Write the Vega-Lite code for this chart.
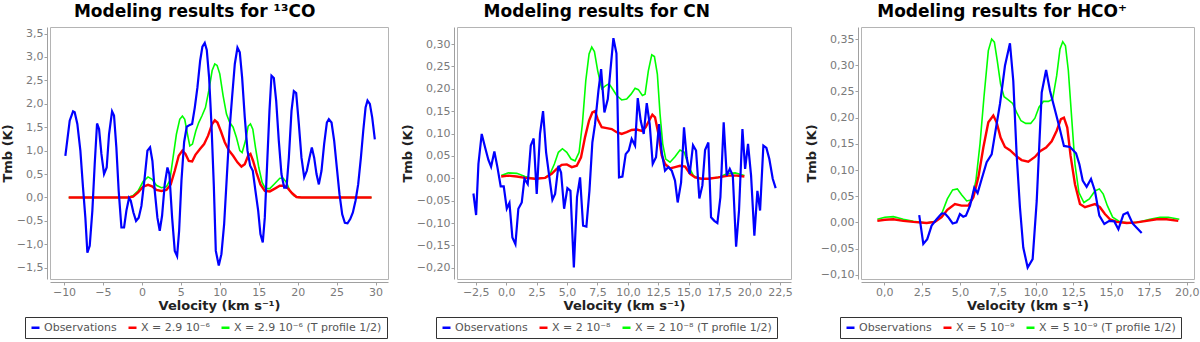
{
  "$schema": "https://vega.github.io/schema/vega-lite/v6.json",
  "padding": {"left": 0, "top": 2, "right": 3, "bottom": 0},
  "spacing": 11,
  "config": {
    "font": "DejaVu Sans",
    "view": {"stroke": "#b4b4b4", "strokeWidth": 1},
    "axis": {"domainColor": "#a0a0a0", "tickColor": "#a0a0a0", "labelColor": "#7a7a7a", "labelFont": "DejaVu Sans", "labelFontSize": 11, "titleFont": "DejaVu Sans", "titleFontSize": 13, "titleFontWeight": "bold", "titleColor": "#222222", "grid": false, "offset": 3, "tickSize": 3, "labelPadding": 1, "titlePadding": 2},
    "title": {"fontSize": 17, "font": "DejaVu Sans", "fontWeight": "bold", "color": "#000000", "offset": 6, "frame": "bounds", "anchor": "middle"},
    "legend": {"orient": "none", "direction": "horizontal", "strokeColor": "#333333", "padding": 5, "symbolType": "stroke", "symbolStrokeWidth": 2.5, "symbolSize": 64, "labelFontSize": 11, "labelLimit": 0, "labelColor": "#555555", "labelFont": "DejaVu Sans", "columnPadding": 6, "labelOffset": 3, "title": null, "legendY": 290}
  },
  "resolve": {"scale": {"color": "independent"}, "legend": {"color": "independent"}},
  "datasets": {
    "co": [
      {"s":"o","v":-9.83,"t":0.89},{"s":"o","v":-9.27,"t":1.64},{"s":"o","v":-8.84,"t":1.84},{"s":"o","v":-8.63,"t":1.82},{"s":"o","v":-8.29,"t":1.57},{"s":"o","v":-7.9,"t":1.0},{"s":"o","v":-7.56,"t":0.21},{"s":"o","v":-7.26,"t":-0.43},{"s":"o","v":-7.0,"t":-1.18},{"s":"o","v":-6.7,"t":-1.03},{"s":"o","v":-6.36,"t":-0.28},{"s":"o","v":-6.06,"t":0.71},{"s":"o","v":-5.76,"t":1.58},{"s":"o","v":-5.5,"t":1.46},{"s":"o","v":-5.2,"t":0.93},{"s":"o","v":-4.86,"t":0.5},{"s":"o","v":-4.52,"t":0.64},{"s":"o","v":-4.22,"t":1.35},{"s":"o","v":-3.83,"t":1.84},{"s":"o","v":-3.58,"t":1.75},{"s":"o","v":-3.28,"t":1.07},{"s":"o","v":-2.98,"t":0.14},{"s":"o","v":-2.63,"t":-0.64},{"s":"o","v":-2.29,"t":-0.64},{"s":"o","v":-1.99,"t":-0.28},{"s":"o","v":-1.65,"t":-0.01},{"s":"o","v":-1.43,"t":-0.07},{"s":"o","v":-1.09,"t":-0.32},{"s":"o","v":-0.75,"t":-0.5},{"s":"o","v":-0.41,"t":-0.43},{"s":"o","v":-0.06,"t":-0.18},{"s":"o","v":0.36,"t":0.43},{"s":"o","v":0.71,"t":1.0},{"s":"o","v":1.05,"t":1.07},{"s":"o","v":1.35,"t":0.78},{"s":"o","v":1.65,"t":0.14},{"s":"o","v":1.99,"t":-0.43},{"s":"o","v":2.29,"t":-0.71},{"s":"o","v":2.59,"t":-0.39},{"s":"o","v":2.93,"t":0.28},{"s":"o","v":3.28,"t":0.64},{"s":"o","v":3.53,"t":0.5},{"s":"o","v":3.88,"t":-0.43},{"s":"o","v":4.22,"t":-1.14},{"s":"o","v":4.52,"t":-1.25},{"s":"o","v":4.78,"t":-0.71},{"s":"o","v":5.08,"t":0.36},{"s":"o","v":5.42,"t":1.18},{"s":"o","v":5.76,"t":1.51},{"s":"o","v":6.15,"t":1.55},{"s":"o","v":6.45,"t":1.57},{"s":"o","v":6.79,"t":1.92},{"s":"o","v":7.13,"t":2.35},{"s":"o","v":7.48,"t":2.92},{"s":"o","v":7.77,"t":3.22},{"s":"o","v":8.07,"t":3.3},{"s":"o","v":8.33,"t":3.15},{"s":"o","v":8.63,"t":2.56},{"s":"o","v":8.93,"t":1.57},{"s":"o","v":9.23,"t":0.28},{"s":"o","v":9.49,"t":-1.14},{"s":"o","v":9.87,"t":-1.45},{"s":"o","v":10.21,"t":-1.21},{"s":"o","v":10.56,"t":-0.57},{"s":"o","v":10.9,"t":0.43},{"s":"o","v":11.24,"t":1.42},{"s":"o","v":11.58,"t":2.14},{"s":"o","v":11.93,"t":2.85},{"s":"o","v":12.27,"t":3.2},{"s":"o","v":12.57,"t":3.1},{"s":"o","v":12.87,"t":2.56},{"s":"o","v":13.21,"t":1.71},{"s":"o","v":13.56,"t":1.0},{"s":"o","v":13.9,"t":0.68},{"s":"o","v":14.24,"t":0.57},{"s":"o","v":14.58,"t":0.14},{"s":"o","v":14.93,"t":-0.28},{"s":"o","v":15.22,"t":-0.78},{"s":"o","v":15.52,"t":-0.96},{"s":"o","v":15.78,"t":-0.43},{"s":"o","v":16.08,"t":0.71},{"s":"o","v":16.38,"t":1.85},{"s":"o","v":16.64,"t":2.6},{"s":"o","v":16.94,"t":2.55},{"s":"o","v":17.24,"t":2.07},{"s":"o","v":17.58,"t":1.21},{"s":"o","v":17.92,"t":0.5},{"s":"o","v":18.27,"t":0.21},{"s":"o","v":18.57,"t":0.21},{"s":"o","v":18.87,"t":0.85},{"s":"o","v":19.21,"t":1.85},{"s":"o","v":19.51,"t":2.27},{"s":"o","v":19.81,"t":2.23},{"s":"o","v":20.15,"t":1.57},{"s":"o","v":20.49,"t":0.85},{"s":"o","v":20.84,"t":0.43},{"s":"o","v":21.18,"t":0.57},{"s":"o","v":21.52,"t":0.85},{"s":"o","v":21.82,"t":1.07},{"s":"o","v":22.12,"t":0.85},{"s":"o","v":22.42,"t":0.5},{"s":"o","v":22.72,"t":0.28},{"s":"o","v":23.06,"t":0.57},{"s":"o","v":23.4,"t":1.14},{"s":"o","v":23.75,"t":1.6},{"s":"o","v":24.0,"t":1.67},{"s":"o","v":24.35,"t":1.6},{"s":"o","v":24.69,"t":1.21},{"s":"o","v":25.03,"t":0.64},{"s":"o","v":25.37,"t":0.07},{"s":"o","v":25.72,"t":-0.36},{"s":"o","v":26.06,"t":-0.54},{"s":"o","v":26.4,"t":-0.55},{"s":"o","v":26.75,"t":-0.46},{"s":"o","v":27.09,"t":-0.32},{"s":"o","v":27.43,"t":-0.07},{"s":"o","v":27.77,"t":0.28},{"s":"o","v":28.12,"t":0.85},{"s":"o","v":28.42,"t":1.42},{"s":"o","v":28.72,"t":1.92},{"s":"o","v":28.97,"t":2.07},{"s":"o","v":29.27,"t":2.0},{"s":"o","v":29.57,"t":1.71},{"s":"o","v":29.91,"t":1.24},
      {"s":"m","v":-9.4,"t":0},{"s":"m","v":-1.78,"t":0},{"s":"m","v":-1.13,"t":0.02},{"s":"m","v":-0.49,"t":0.11},{"s":"m","v":0.15,"t":0.23},{"s":"m","v":0.79,"t":0.27},{"s":"m","v":1.31,"t":0.24},{"s":"m","v":1.86,"t":0.16},{"s":"m","v":2.5,"t":0.14},{"s":"m","v":3.15,"t":0.16},{"s":"m","v":3.7,"t":0.28},{"s":"m","v":4.22,"t":0.57},{"s":"m","v":4.73,"t":0.89},{"s":"m","v":5.2,"t":1.0},{"s":"m","v":5.59,"t":0.93},{"s":"m","v":6.02,"t":0.78},{"s":"m","v":6.45,"t":0.77},{"s":"m","v":6.87,"t":0.91},{"s":"m","v":7.43,"t":1.03},{"s":"m","v":7.99,"t":1.14},{"s":"m","v":8.5,"t":1.32},{"s":"m","v":9.02,"t":1.57},{"s":"m","v":9.36,"t":1.65},{"s":"m","v":9.7,"t":1.6},{"s":"m","v":10.13,"t":1.42},{"s":"m","v":10.64,"t":1.18},{"s":"m","v":11.16,"t":1.01},{"s":"m","v":11.71,"t":0.89},{"s":"m","v":12.27,"t":0.75},{"s":"m","v":12.78,"t":0.66},{"s":"m","v":13.21,"t":0.71},{"s":"m","v":13.64,"t":0.89},{"s":"m","v":13.94,"t":0.93},{"s":"m","v":14.28,"t":0.78},{"s":"m","v":14.71,"t":0.53},{"s":"m","v":15.22,"t":0.28},{"s":"m","v":15.78,"t":0.14},{"s":"m","v":16.42,"t":0.13},{"s":"m","v":17.07,"t":0.19},{"s":"m","v":17.71,"t":0.25},{"s":"m","v":18.27,"t":0.25},{"s":"m","v":18.78,"t":0.19},{"s":"m","v":19.29,"t":0.09},{"s":"m","v":19.85,"t":0.01},{"s":"m","v":20.49,"t":0},{"s":"m","v":29.49,"t":0},
      {"s":"g","v":-9.4,"t":0},{"s":"g","v":-1.78,"t":0},{"s":"g","v":-1.13,"t":0.04},{"s":"g","v":-0.49,"t":0.14},{"s":"g","v":0.15,"t":0.34},{"s":"g","v":0.79,"t":0.44},{"s":"g","v":1.31,"t":0.39},{"s":"g","v":1.86,"t":0.26},{"s":"g","v":2.5,"t":0.21},{"s":"g","v":3.15,"t":0.23},{"s":"g","v":3.58,"t":0.36},{"s":"g","v":4.0,"t":0.85},{"s":"g","v":4.43,"t":1.35},{"s":"g","v":4.86,"t":1.67},{"s":"g","v":5.2,"t":1.74},{"s":"g","v":5.5,"t":1.67},{"s":"g","v":5.85,"t":1.35},{"s":"g","v":6.15,"t":1.1},{"s":"g","v":6.49,"t":1.14},{"s":"g","v":6.92,"t":1.42},{"s":"g","v":7.3,"t":1.6},{"s":"g","v":7.73,"t":1.75},{"s":"g","v":8.16,"t":1.92},{"s":"g","v":8.59,"t":2.28},{"s":"g","v":9.02,"t":2.71},{"s":"g","v":9.36,"t":2.85},{"s":"g","v":9.66,"t":2.82},{"s":"g","v":10.0,"t":2.64},{"s":"g","v":10.43,"t":2.17},{"s":"g","v":10.86,"t":1.78},{"s":"g","v":11.28,"t":1.6},{"s":"g","v":11.71,"t":1.5},{"s":"g","v":12.14,"t":1.28},{"s":"g","v":12.57,"t":1.0},{"s":"g","v":12.87,"t":0.96},{"s":"g","v":13.3,"t":1.21},{"s":"g","v":13.64,"t":1.52},{"s":"g","v":13.94,"t":1.57},{"s":"g","v":14.24,"t":1.46},{"s":"g","v":14.58,"t":1.07},{"s":"g","v":15.01,"t":0.64},{"s":"g","v":15.44,"t":0.32},{"s":"g","v":15.87,"t":0.19},{"s":"g","v":16.42,"t":0.19},{"s":"g","v":17.07,"t":0.3},{"s":"g","v":17.71,"t":0.41},{"s":"g","v":18.14,"t":0.41},{"s":"g","v":18.57,"t":0.32},{"s":"g","v":19.0,"t":0.14},{"s":"g","v":19.51,"t":0.04},{"s":"g","v":20.06,"t":0},{"s":"g","v":29.49,"t":0}
    ],
    "cn": [
      {"s":"o","v":-2.69,"t":-0.034},{"s":"o","v":-2.47,"t":-0.082},{"s":"o","v":-2.28,"t":0.032},{"s":"o","v":-2.01,"t":0.099},{"s":"o","v":-1.73,"t":0.069},{"s":"o","v":-1.46,"t":0.041},{"s":"o","v":-1.24,"t":0.026},{"s":"o","v":-0.97,"t":0.06},{"s":"o","v":-0.72,"t":0.025},{"s":"o","v":-0.45,"t":-0.018},{"s":"o","v":-0.2,"t":-0.018},{"s":"o","v":0.05,"t":-0.068},{"s":"o","v":0.27,"t":-0.055},{"s":"o","v":0.51,"t":-0.132},{"s":"o","v":0.76,"t":-0.147},{"s":"o","v":1.0,"t":-0.068},{"s":"o","v":1.28,"t":-0.054},{"s":"o","v":1.5,"t":-0.001},{"s":"o","v":1.77,"t":-0.013},{"s":"o","v":2.02,"t":0.073},{"s":"o","v":2.26,"t":0.089},{"s":"o","v":2.51,"t":-0.035},{"s":"o","v":2.78,"t":0.099},{"s":"o","v":3.03,"t":0.15},{"s":"o","v":3.28,"t":0.058},{"s":"o","v":3.55,"t":0.002},{"s":"o","v":3.8,"t":-0.048},{"s":"o","v":4.02,"t":-0.035},{"s":"o","v":4.29,"t":0.028},{"s":"o","v":4.51,"t":0.013},{"s":"o","v":4.76,"t":-0.068},{"s":"o","v":5.03,"t":-0.022},{"s":"o","v":5.28,"t":-0.028},{"s":"o","v":5.56,"t":-0.199},{"s":"o","v":5.82,"t":-0.042},{"s":"o","v":6.07,"t":0.002},{"s":"o","v":6.32,"t":-0.106},{"s":"o","v":6.59,"t":-0.108},{"s":"o","v":6.84,"t":-0.028},{"s":"o","v":7.08,"t":0.08},{"s":"o","v":7.3,"t":0.121},{"s":"o","v":7.58,"t":0.196},{"s":"o","v":7.8,"t":0.244},{"s":"o","v":8.07,"t":0.147},{"s":"o","v":8.35,"t":0.177},{"s":"o","v":8.56,"t":0.24},{"s":"o","v":8.81,"t":0.313},{"s":"o","v":9.06,"t":0.279},{"s":"o","v":9.27,"t":0.002},{"s":"o","v":9.55,"t":0.004},{"s":"o","v":9.82,"t":0.054},{"s":"o","v":10.07,"t":0.062},{"s":"o","v":10.31,"t":0.088},{"s":"o","v":10.59,"t":0.073},{"s":"o","v":10.81,"t":0.179},{"s":"o","v":11.05,"t":0.129},{"s":"o","v":11.3,"t":0.099},{"s":"o","v":11.55,"t":0.168},{"s":"o","v":11.79,"t":0.121},{"s":"o","v":12.04,"t":0.032},{"s":"o","v":12.31,"t":0.047},{"s":"o","v":12.56,"t":0.121},{"s":"o","v":12.78,"t":0.058},{"s":"o","v":13.05,"t":0.017},{"s":"o","v":13.33,"t":0.025},{"s":"o","v":13.6,"t":0.017},{"s":"o","v":13.87,"t":-0.005},{"s":"o","v":14.09,"t":-0.054},{"s":"o","v":14.37,"t":-0.009},{"s":"o","v":14.61,"t":0.114},{"s":"o","v":14.83,"t":0.047},{"s":"o","v":15.08,"t":0.01},{"s":"o","v":15.35,"t":0.074},{"s":"o","v":15.6,"t":0.062},{"s":"o","v":15.87,"t":-0.045},{"s":"o","v":16.12,"t":-0.016},{"s":"o","v":16.34,"t":0.063},{"s":"o","v":16.61,"t":0.08},{"s":"o","v":16.83,"t":-0.087},{"s":"o","v":17.1,"t":-0.095},{"s":"o","v":17.35,"t":-0.1},{"s":"o","v":17.6,"t":-0.042},{"s":"o","v":17.87,"t":0.125},{"s":"o","v":18.12,"t":0.006},{"s":"o","v":18.37,"t":0.021},{"s":"o","v":18.62,"t":0.006},{"s":"o","v":18.89,"t":-0.153},{"s":"o","v":19.13,"t":-0.072},{"s":"o","v":19.41,"t":0.11},{"s":"o","v":19.63,"t":0.021},{"s":"o","v":19.87,"t":0.077},{"s":"o","v":20.12,"t":0.006},{"s":"o","v":20.39,"t":-0.128},{"s":"o","v":20.64,"t":-0.028},{"s":"o","v":20.86,"t":-0.072},{"s":"o","v":21.13,"t":0.073},{"s":"o","v":21.38,"t":0.068},{"s":"o","v":21.62,"t":0.043},{"s":"o","v":21.9,"t":-0.001},{"s":"o","v":22.14,"t":-0.022},
      {"s":"m","v":-0.41,"t":0.004},{"s":"m","v":0.18,"t":0.006},{"s":"m","v":0.87,"t":0.004},{"s":"m","v":1.55,"t":0.001},{"s":"m","v":2.37,"t":-0.001},{"s":"m","v":3.2,"t":0.001},{"s":"m","v":3.74,"t":0.01},{"s":"m","v":4.15,"t":0.021},{"s":"m","v":4.56,"t":0.03},{"s":"m","v":4.98,"t":0.031},{"s":"m","v":5.39,"t":0.025},{"s":"m","v":5.8,"t":0.028},{"s":"m","v":6.15,"t":0.047},{"s":"m","v":6.48,"t":0.092},{"s":"m","v":6.81,"t":0.129},{"s":"m","v":7.08,"t":0.147},{"s":"m","v":7.3,"t":0.15},{"s":"m","v":7.52,"t":0.132},{"s":"m","v":7.85,"t":0.114},{"s":"m","v":8.26,"t":0.112},{"s":"m","v":8.67,"t":0.11},{"s":"m","v":9.08,"t":0.103},{"s":"m","v":9.49,"t":0.099},{"s":"m","v":9.9,"t":0.103},{"s":"m","v":10.31,"t":0.108},{"s":"m","v":10.73,"t":0.109},{"s":"m","v":11.14,"t":0.106},{"s":"m","v":11.46,"t":0.114},{"s":"m","v":11.74,"t":0.129},{"s":"m","v":12.01,"t":0.142},{"s":"m","v":12.23,"t":0.136},{"s":"m","v":12.51,"t":0.099},{"s":"m","v":12.78,"t":0.051},{"s":"m","v":13.05,"t":0.032},{"s":"m","v":13.46,"t":0.022},{"s":"m","v":13.87,"t":0.025},{"s":"m","v":14.28,"t":0.028},{"s":"m","v":14.7,"t":0.026},{"s":"m","v":15.11,"t":0.01},{"s":"m","v":15.52,"t":0.002},{"s":"m","v":16.07,"t":-0.001},{"s":"m","v":16.61,"t":-0.001},{"s":"m","v":17.43,"t":0.002},{"s":"m","v":18.26,"t":0.006},{"s":"m","v":18.94,"t":0.006},{"s":"m","v":19.57,"t":0.004},
      {"s":"g","v":-0.41,"t":0.006},{"s":"g","v":0.18,"t":0.012},{"s":"g","v":0.87,"t":0.011},{"s":"g","v":1.55,"t":0.004},{"s":"g","v":2.37,"t":-0.001},{"s":"g","v":3.2,"t":0.001},{"s":"g","v":3.61,"t":0.01},{"s":"g","v":3.96,"t":0.032},{"s":"g","v":4.29,"t":0.058},{"s":"g","v":4.62,"t":0.066},{"s":"g","v":4.98,"t":0.058},{"s":"g","v":5.33,"t":0.043},{"s":"g","v":5.66,"t":0.039},{"s":"g","v":5.99,"t":0.058},{"s":"g","v":6.26,"t":0.121},{"s":"g","v":6.54,"t":0.218},{"s":"g","v":6.81,"t":0.278},{"s":"g","v":7.03,"t":0.293},{"s":"g","v":7.25,"t":0.283},{"s":"g","v":7.52,"t":0.24},{"s":"g","v":7.85,"t":0.2},{"s":"g","v":8.18,"t":0.207},{"s":"g","v":8.45,"t":0.211},{"s":"g","v":8.73,"t":0.2},{"s":"g","v":9.08,"t":0.185},{"s":"g","v":9.49,"t":0.175},{"s":"g","v":9.9,"t":0.177},{"s":"g","v":10.26,"t":0.188},{"s":"g","v":10.59,"t":0.201},{"s":"g","v":10.86,"t":0.198},{"s":"g","v":11.19,"t":0.185},{"s":"g","v":11.41,"t":0.188},{"s":"g","v":11.68,"t":0.24},{"s":"g","v":11.96,"t":0.276},{"s":"g","v":12.18,"t":0.272},{"s":"g","v":12.42,"t":0.233},{"s":"g","v":12.64,"t":0.144},{"s":"g","v":12.86,"t":0.077},{"s":"g","v":13.11,"t":0.043},{"s":"g","v":13.46,"t":0.036},{"s":"g","v":13.87,"t":0.048},{"s":"g","v":14.28,"t":0.063},{"s":"g","v":14.64,"t":0.058},{"s":"g","v":14.97,"t":0.028},{"s":"g","v":15.38,"t":0.006},{"s":"g","v":15.93,"t":-0.001},{"s":"g","v":16.61,"t":-0.001},{"s":"g","v":17.43,"t":0.002},{"s":"g","v":18.12,"t":0.01},{"s":"g","v":18.81,"t":0.012},{"s":"g","v":19.57,"t":0.006}
    ],
    "hco": [
      {"s":"o","v":2.31,"t":0.014},{"s":"o","v":2.58,"t":-0.041},{"s":"o","v":2.84,"t":-0.032},{"s":"o","v":3.13,"t":-0.006},{"s":"o","v":3.46,"t":0.006},{"s":"o","v":3.79,"t":0.017},{"s":"o","v":4.01,"t":0.017},{"s":"o","v":4.23,"t":0.01},{"s":"o","v":4.52,"t":-0.002},{"s":"o","v":4.78,"t":0.0},{"s":"o","v":5.0,"t":0.016},{"s":"o","v":5.22,"t":0.011},{"s":"o","v":5.4,"t":0.013},{"s":"o","v":5.67,"t":0.032},{"s":"o","v":5.95,"t":0.066},{"s":"o","v":6.17,"t":0.056},{"s":"o","v":6.44,"t":0.083},{"s":"o","v":6.77,"t":0.115},{"s":"o","v":7.1,"t":0.13},{"s":"o","v":7.39,"t":0.181},{"s":"o","v":7.65,"t":0.226},{"s":"o","v":7.98,"t":0.299},{"s":"o","v":8.31,"t":0.342},{"s":"o","v":8.53,"t":0.27},{"s":"o","v":8.75,"t":0.13},{"s":"o","v":8.97,"t":0.029},{"s":"o","v":9.19,"t":-0.048},{"s":"o","v":9.48,"t":-0.086},{"s":"o","v":9.81,"t":-0.07},{"s":"o","v":10.08,"t":0.041},{"s":"o","v":10.41,"t":0.248},{"s":"o","v":10.7,"t":0.291},{"s":"o","v":10.96,"t":0.251},{"s":"o","v":11.24,"t":0.22},{"s":"o","v":11.55,"t":0.185},{"s":"o","v":11.88,"t":0.146},{"s":"o","v":12.28,"t":0.144},{"s":"o","v":12.68,"t":0.132},{"s":"o","v":12.9,"t":0.111},{"s":"o","v":13.12,"t":0.08},{"s":"o","v":13.38,"t":0.068},{"s":"o","v":13.67,"t":0.083},{"s":"o","v":13.93,"t":0.06},{"s":"o","v":14.22,"t":0.013},{"s":"o","v":14.55,"t":-0.003},{"s":"o","v":14.88,"t":0.003},{"s":"o","v":15.21,"t":0.002},{"s":"o","v":15.48,"t":-0.013},{"s":"o","v":15.81,"t":0.015},{"s":"o","v":16.09,"t":0.019},{"s":"o","v":16.42,"t":-0.002},{"s":"o","v":16.69,"t":-0.01},{"s":"o","v":17.02,"t":-0.02},
      {"s":"m","v":-0.46,"t":0.003},{"s":"m","v":0.04,"t":0.005},{"s":"m","v":0.6,"t":0.006},{"s":"m","v":1.26,"t":0.003},{"s":"m","v":1.92,"t":0.001},{"s":"m","v":2.8,"t":-0.001},{"s":"m","v":3.35,"t":0.001},{"s":"m","v":3.79,"t":0.01},{"s":"m","v":4.17,"t":0.024},{"s":"m","v":4.67,"t":0.035},{"s":"m","v":5.11,"t":0.032},{"s":"m","v":5.56,"t":0.032},{"s":"m","v":5.89,"t":0.048},{"s":"m","v":6.22,"t":0.086},{"s":"m","v":6.55,"t":0.143},{"s":"m","v":6.88,"t":0.191},{"s":"m","v":7.21,"t":0.204},{"s":"m","v":7.43,"t":0.191},{"s":"m","v":7.69,"t":0.162},{"s":"m","v":7.98,"t":0.144},{"s":"m","v":8.31,"t":0.138},{"s":"m","v":8.71,"t":0.127},{"s":"m","v":9.08,"t":0.119},{"s":"m","v":9.52,"t":0.116},{"s":"m","v":9.96,"t":0.125},{"s":"m","v":10.3,"t":0.136},{"s":"m","v":10.7,"t":0.143},{"s":"m","v":11.07,"t":0.155},{"s":"m","v":11.4,"t":0.175},{"s":"m","v":11.68,"t":0.197},{"s":"m","v":11.88,"t":0.2},{"s":"m","v":12.1,"t":0.181},{"s":"m","v":12.32,"t":0.127},{"s":"m","v":12.61,"t":0.073},{"s":"m","v":12.94,"t":0.035},{"s":"m","v":13.27,"t":0.029},{"s":"m","v":13.6,"t":0.032},{"s":"m","v":13.93,"t":0.035},{"s":"m","v":14.26,"t":0.029},{"s":"m","v":14.59,"t":0.016},{"s":"m","v":14.92,"t":0.006},{"s":"m","v":15.37,"t":0.001},{"s":"m","v":16.03,"t":-0.001},{"s":"m","v":16.69,"t":0.0},{"s":"m","v":17.35,"t":0.003},{"s":"m","v":18.01,"t":0.006},{"s":"m","v":18.67,"t":0.006},{"s":"m","v":19.44,"t":0.003},
      {"s":"g","v":-0.46,"t":0.006},{"s":"g","v":0.04,"t":0.01},{"s":"g","v":0.6,"t":0.011},{"s":"g","v":1.26,"t":0.006},{"s":"g","v":1.92,"t":0.002},{"s":"g","v":2.8,"t":-0.001},{"s":"g","v":3.35,"t":0.002},{"s":"g","v":3.79,"t":0.016},{"s":"g","v":4.17,"t":0.045},{"s":"g","v":4.52,"t":0.062},{"s":"g","v":4.83,"t":0.064},{"s":"g","v":5.11,"t":0.053},{"s":"g","v":5.45,"t":0.041},{"s":"g","v":5.78,"t":0.043},{"s":"g","v":6.06,"t":0.08},{"s":"g","v":6.33,"t":0.15},{"s":"g","v":6.59,"t":0.239},{"s":"g","v":6.88,"t":0.328},{"s":"g","v":7.1,"t":0.35},{"s":"g","v":7.28,"t":0.344},{"s":"g","v":7.47,"t":0.309},{"s":"g","v":7.69,"t":0.264},{"s":"g","v":7.92,"t":0.24},{"s":"g","v":8.2,"t":0.234},{"s":"g","v":8.49,"t":0.227},{"s":"g","v":8.75,"t":0.21},{"s":"g","v":9.04,"t":0.194},{"s":"g","v":9.35,"t":0.189},{"s":"g","v":9.68,"t":0.189},{"s":"g","v":9.96,"t":0.199},{"s":"g","v":10.23,"t":0.22},{"s":"g","v":10.52,"t":0.231},{"s":"g","v":10.85,"t":0.231},{"s":"g","v":11.13,"t":0.235},{"s":"g","v":11.4,"t":0.28},{"s":"g","v":11.62,"t":0.331},{"s":"g","v":11.8,"t":0.345},{"s":"g","v":11.98,"t":0.337},{"s":"g","v":12.17,"t":0.29},{"s":"g","v":12.39,"t":0.2},{"s":"g","v":12.61,"t":0.111},{"s":"g","v":12.87,"t":0.057},{"s":"g","v":13.2,"t":0.038},{"s":"g","v":13.56,"t":0.045},{"s":"g","v":13.93,"t":0.06},{"s":"g","v":14.22,"t":0.064},{"s":"g","v":14.48,"t":0.054},{"s":"g","v":14.75,"t":0.032},{"s":"g","v":15.1,"t":0.01},{"s":"g","v":15.59,"t":0.001},{"s":"g","v":16.25,"t":-0.001},{"s":"g","v":16.91,"t":0.001},{"s":"g","v":17.57,"t":0.006},{"s":"g","v":18.23,"t":0.01},{"s":"g","v":18.78,"t":0.01},{"s":"g","v":19.51,"t":0.006}
    ]
  },
  "hconcat": [
    {
      "title": "Modeling results for ¹³CO",
      "width": 338, "height": 252,
      "data": {"name": "co"},
      "encoding": {
        "x": {"field": "v", "type": "quantitative", "scale": {"domain": [-11.8, 31.6], "nice": false, "zero": false}, "axis": {"title": "Velocity (km s⁻¹)", "values": [-10, -5, 0, 5, 10, 15, 20, 25, 30], "labelExpr": "format(datum.value, 'd')"}},
        "y": {"field": "t", "type": "quantitative", "scale": {"domain": [-1.74, 3.64], "nice": false, "zero": false}, "axis": {"title": "Tmb (K)", "values": [-1.5, -1, -0.5, 0, 0.5, 1, 1.5, 2, 2.5, 3, 3.5], "labelExpr": "replace(format(datum.value, '.1f'), '.', ',')"}},
        "color": {"field": "s", "type": "nominal", "scale": {"domain": ["o", "m", "g"], "range": ["#0000ff", "#ff0000", "#00ff00"]}, "legend": {"legendX": -25, "labelExpr": "datum.label == 'o' ? 'Observations' : datum.label == 'm' ? 'X = 2.9 10⁻⁶' : 'X = 2.9 10⁻⁶ (T profile 1/2)'"}}
      },
      "layer": [
        {"transform": [{"filter": "datum.s == 'g'"}], "mark": {"type": "line", "strokeWidth": 1.6, "clip": true}},
        {"transform": [{"filter": "datum.s == 'm'"}], "mark": {"type": "line", "strokeWidth": 2.4, "clip": true}},
        {"transform": [{"filter": "datum.s == 'o'"}], "mark": {"type": "line", "strokeWidth": 2.2, "clip": true}}
      ]
    },
    {
      "title": "Modeling results for CN",
      "width": 334, "height": 252,
      "data": {"name": "cn"},
      "encoding": {
        "x": {"field": "v", "type": "quantitative", "scale": {"domain": [-4.04, 23.4], "nice": false, "zero": false}, "axis": {"title": "Velocity (km s⁻¹)", "values": [-2.5, 0, 2.5, 5, 7.5, 10, 12.5, 15, 17.5, 20, 22.5], "labelExpr": "replace(format(datum.value, '.1f'), '.', ',')"}},
        "y": {"field": "t", "type": "quantitative", "scale": {"domain": [-0.225, 0.338], "nice": false, "zero": false}, "axis": {"title": "Tmb (K)", "values": [-0.2, -0.15, -0.1, -0.05, 0, 0.05, 0.1, 0.15, 0.2, 0.25, 0.3], "labelExpr": "replace(format(datum.value, '.2f'), '.', ',')"}},
        "color": {"field": "s", "type": "nominal", "scale": {"domain": ["o", "m", "g"], "range": ["#0000ff", "#ff0000", "#00ff00"]}, "legend": {"legendX": -21, "labelExpr": "datum.label == 'o' ? 'Observations' : datum.label == 'm' ? 'X = 2 10⁻⁸' : 'X = 2 10⁻⁸ (T profile 1/2)'"}}
      },
      "layer": [
        {"transform": [{"filter": "datum.s == 'g'"}], "mark": {"type": "line", "strokeWidth": 1.6, "clip": true}},
        {"transform": [{"filter": "datum.s == 'm'"}], "mark": {"type": "line", "strokeWidth": 2.4, "clip": true}},
        {"transform": [{"filter": "datum.s == 'o'"}], "mark": {"type": "line", "strokeWidth": 2.2, "clip": true}}
      ]
    },
    {
      "title": "Modeling results for HCO⁺",
      "width": 333, "height": 252,
      "data": {"name": "hco"},
      "encoding": {
        "x": {"field": "v", "type": "quantitative", "scale": {"domain": [-1.54, 20.48], "nice": false, "zero": false}, "axis": {"title": "Velocity (km s⁻¹)", "values": [0, 2.5, 5, 7.5, 10, 12.5, 15, 17.5, 20], "labelExpr": "replace(format(datum.value, '.1f'), '.', ',')"}},
        "y": {"field": "t", "type": "quantitative", "scale": {"domain": [-0.108, 0.373], "nice": false, "zero": false}, "axis": {"title": "Tmb (K)", "values": [-0.1, -0.05, 0, 0.05, 0.1, 0.15, 0.2, 0.25, 0.3, 0.35], "labelExpr": "replace(format(datum.value, '.2f'), '.', ',')"}},
        "color": {"field": "s", "type": "nominal", "scale": {"domain": ["o", "m", "g"], "range": ["#0000ff", "#ff0000", "#00ff00"]}, "legend": {"legendX": -21, "labelExpr": "datum.label == 'o' ? 'Observations' : datum.label == 'm' ? 'X = 5 10⁻⁹' : 'X = 5 10⁻⁹ (T profile 1/2)'"}}
      },
      "layer": [
        {"transform": [{"filter": "datum.s == 'g'"}], "mark": {"type": "line", "strokeWidth": 1.6, "clip": true}},
        {"transform": [{"filter": "datum.s == 'm'"}], "mark": {"type": "line", "strokeWidth": 2.4, "clip": true}},
        {"transform": [{"filter": "datum.s == 'o'"}], "mark": {"type": "line", "strokeWidth": 2.2, "clip": true}}
      ]
    }
  ]
}
